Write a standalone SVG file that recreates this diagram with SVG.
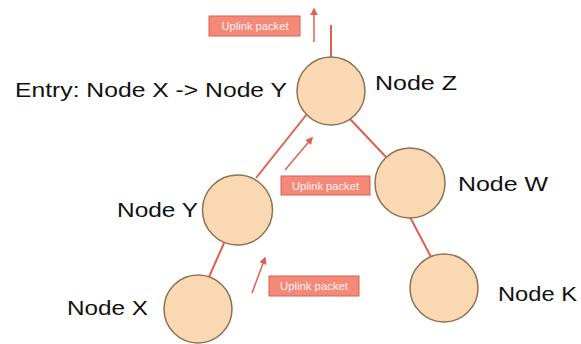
<svg xmlns="http://www.w3.org/2000/svg" width="581" height="344" viewBox="0 0 581 344">
  <style>
    .node { fill: #fad8b4; stroke: #8c7352; stroke-width: 1.5; }
    .label { font-family: "Liberation Sans", Arial, sans-serif; font-size: 20px; fill: #111; }
    .edge { stroke: #e0604f; stroke-width: 2; fill: none; }
    .flow { stroke: #e0604f; stroke-width: 1.5; fill: none; marker-end: url(#tip); }
    .tag rect { fill: #f4897a; stroke: #d9614f; stroke-width: 1; }
    .tag text { font-family: "Liberation Sans", Arial, sans-serif; font-size: 10px; fill: #fff3ef; text-anchor: middle; }
  </style>
  <defs>
    <marker id="tip" viewBox="0 0 10 10" refX="8" refY="5" markerWidth="5" markerHeight="5" orient="auto">
      <path d="M0,0 L10,5 L0,10 z" fill="#e0604f"/>
    </marker>
  </defs>
  <rect width="581" height="344" fill="#ffffff"/>

  <g id="connectors">
    <line class="edge" x1="331" y1="25" x2="331" y2="58"/>
    <line class="edge" x1="256" y1="178" x2="307" y2="114"/>
    <line class="edge" x1="350" y1="119" x2="386" y2="157"/>
    <line class="edge" x1="224" y1="243" x2="209" y2="277"/>
    <line class="edge" x1="410" y1="217" x2="431" y2="257"/>
  </g>

  <g id="uplink-flows">
    <line class="flow" x1="314" y1="42" x2="314" y2="9"/>
    <line class="flow" x1="285" y1="170" x2="312" y2="138"/>
    <line class="flow" x1="252" y1="293" x2="265" y2="258"/>
  </g>

  <g id="tag-top" class="tag">
    <rect x="209" y="16" width="91" height="20"/>
    <text x="255" y="30" textLength="67" lengthAdjust="spacingAndGlyphs">Uplink packet</text>
  </g>
  <g id="tag-mid" class="tag">
    <rect x="281" y="176" width="89" height="19"/>
    <text x="325.5" y="190" textLength="67" lengthAdjust="spacingAndGlyphs">Uplink packet</text>
  </g>
  <g id="tag-low" class="tag">
    <rect x="269" y="276" width="90" height="20"/>
    <text x="314" y="290" textLength="68" lengthAdjust="spacingAndGlyphs">Uplink packet</text>
  </g>

  <g id="node-z">
    <circle class="node" cx="331" cy="91" r="34"/>
    <text class="label" x="375" y="90" textLength="82" lengthAdjust="spacingAndGlyphs">Node Z</text>
  </g>
  <g id="entry">
    <text class="label" x="15" y="97" textLength="272" lengthAdjust="spacingAndGlyphs">Entry: Node X -&gt; Node Y</text>
  </g>
  <g id="node-w">
    <circle class="node" cx="410" cy="183" r="35"/>
    <text class="label" x="458" y="191" textLength="90" lengthAdjust="spacingAndGlyphs">Node W</text>
  </g>
  <g id="node-y">
    <circle class="node" cx="237.5" cy="210" r="35"/>
    <text class="label" x="117" y="217" textLength="81" lengthAdjust="spacingAndGlyphs">Node Y</text>
  </g>
  <g id="node-x">
    <circle class="node" cx="198" cy="309" r="34"/>
    <text class="label" x="67" y="315" textLength="81" lengthAdjust="spacingAndGlyphs">Node X</text>
  </g>
  <g id="node-k">
    <circle class="node" cx="444" cy="288" r="34"/>
    <text class="label" x="498" y="301" textLength="79" lengthAdjust="spacingAndGlyphs">Node K</text>
  </g>
</svg>
